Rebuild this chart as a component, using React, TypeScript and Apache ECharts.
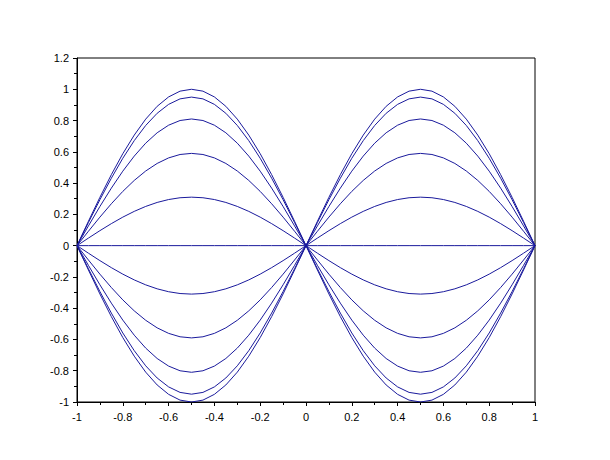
import React, { useEffect, useRef } from "react";
import * as echarts from "echarts";

// x sample positions (-1 .. 1, step 0.05)
const xs: number[] = [
  -1, -0.95, -0.9, -0.85, -0.8, -0.75, -0.7, -0.65, -0.6, -0.55, -0.5,
  -0.45, -0.4, -0.35, -0.3, -0.25, -0.2, -0.15, -0.1, -0.05, 0,
  0.05, 0.1, 0.15, 0.2, 0.25, 0.3, 0.35, 0.4, 0.45, 0.5,
  0.55, 0.6, 0.65, 0.7, 0.75, 0.8, 0.85, 0.9, 0.95, 1,
];

// shape of the outermost curve read at those x positions
const profile: number[] = [
  0, -0.156, -0.309, -0.454, -0.588, -0.707, -0.809, -0.891, -0.951, -0.988, -1,
  -0.988, -0.951, -0.891, -0.809, -0.707, -0.588, -0.454, -0.309, -0.156, 0,
  0.156, 0.309, 0.454, 0.588, 0.707, 0.809, 0.891, 0.951, 0.988, 1,
  0.988, 0.951, 0.891, 0.809, 0.707, 0.588, 0.454, 0.309, 0.156, 0,
];

// peak heights of the curves in the family
const amplitudes: number[] = [1, 0.95, 0.81, 0.59, 0.31, 0, -0.31, -0.59, -0.81, -0.95, -1];

const LINE_COLOR = "#1a1a9c";

export default function App() {
  const ref = useRef<HTMLDivElement>(null);

  useEffect(() => {
    document.body.style.margin = "0";
    const chart = echarts.init(ref.current!, null, { renderer: "svg" });
    const series = amplitudes.map((a, k) => ({
      name: "c" + k,
      type: "line",
      data: xs.map((x, i) => [x, profile[i] * a]),
      showSymbol: false,
      symbol: "none",
      lineStyle: { color: LINE_COLOR, width: 1 },
      silent: true,
    }));
    const labelStyle = {
      color: "#000",
      fontFamily: "Liberation Sans, Arial, sans-serif",
      fontSize: 11,
    };
    chart.setOption({
      animation: false,
      backgroundColor: "#fff",
      grid: {
        left: 77,
        top: 58,
        width: 458,
        height: 344,
        show: true,
        borderColor: "#000",
        borderWidth: 1,
        backgroundColor: "transparent",
      },
      xAxis: {
        type: "value",
        min: -1,
        max: 1,
        interval: 0.2,
        axisLine: { show: true, onZero: false, lineStyle: { color: "#000", width: 1 } },
        axisTick: { show: true, inside: false, length: 4, lineStyle: { color: "#000" } },
        minorTick: { show: true, splitNumber: 2, length: 3, lineStyle: { color: "#000" } },
        splitLine: { show: false },
        axisLabel: { ...labelStyle, margin: 9, formatter: (v: number) => String(Math.round(v * 10) / 10) },
      },
      yAxis: {
        type: "value",
        min: -1,
        max: 1.2,
        interval: 0.2,
        axisLine: { show: true, onZero: false, lineStyle: { color: "#000", width: 1 } },
        axisTick: { show: true, inside: false, length: 4, lineStyle: { color: "#000" } },
        minorTick: { show: true, splitNumber: 2, length: 3, lineStyle: { color: "#000" } },
        splitLine: { show: false },
        axisLabel: { ...labelStyle, margin: 8, formatter: (v: number) => String(Math.round(v * 10) / 10) },
      },
      series,
    });
    return () => chart.dispose();
  }, []);

  return <div ref={ref} style={{ width: 610, height: 460 }} />;
}
